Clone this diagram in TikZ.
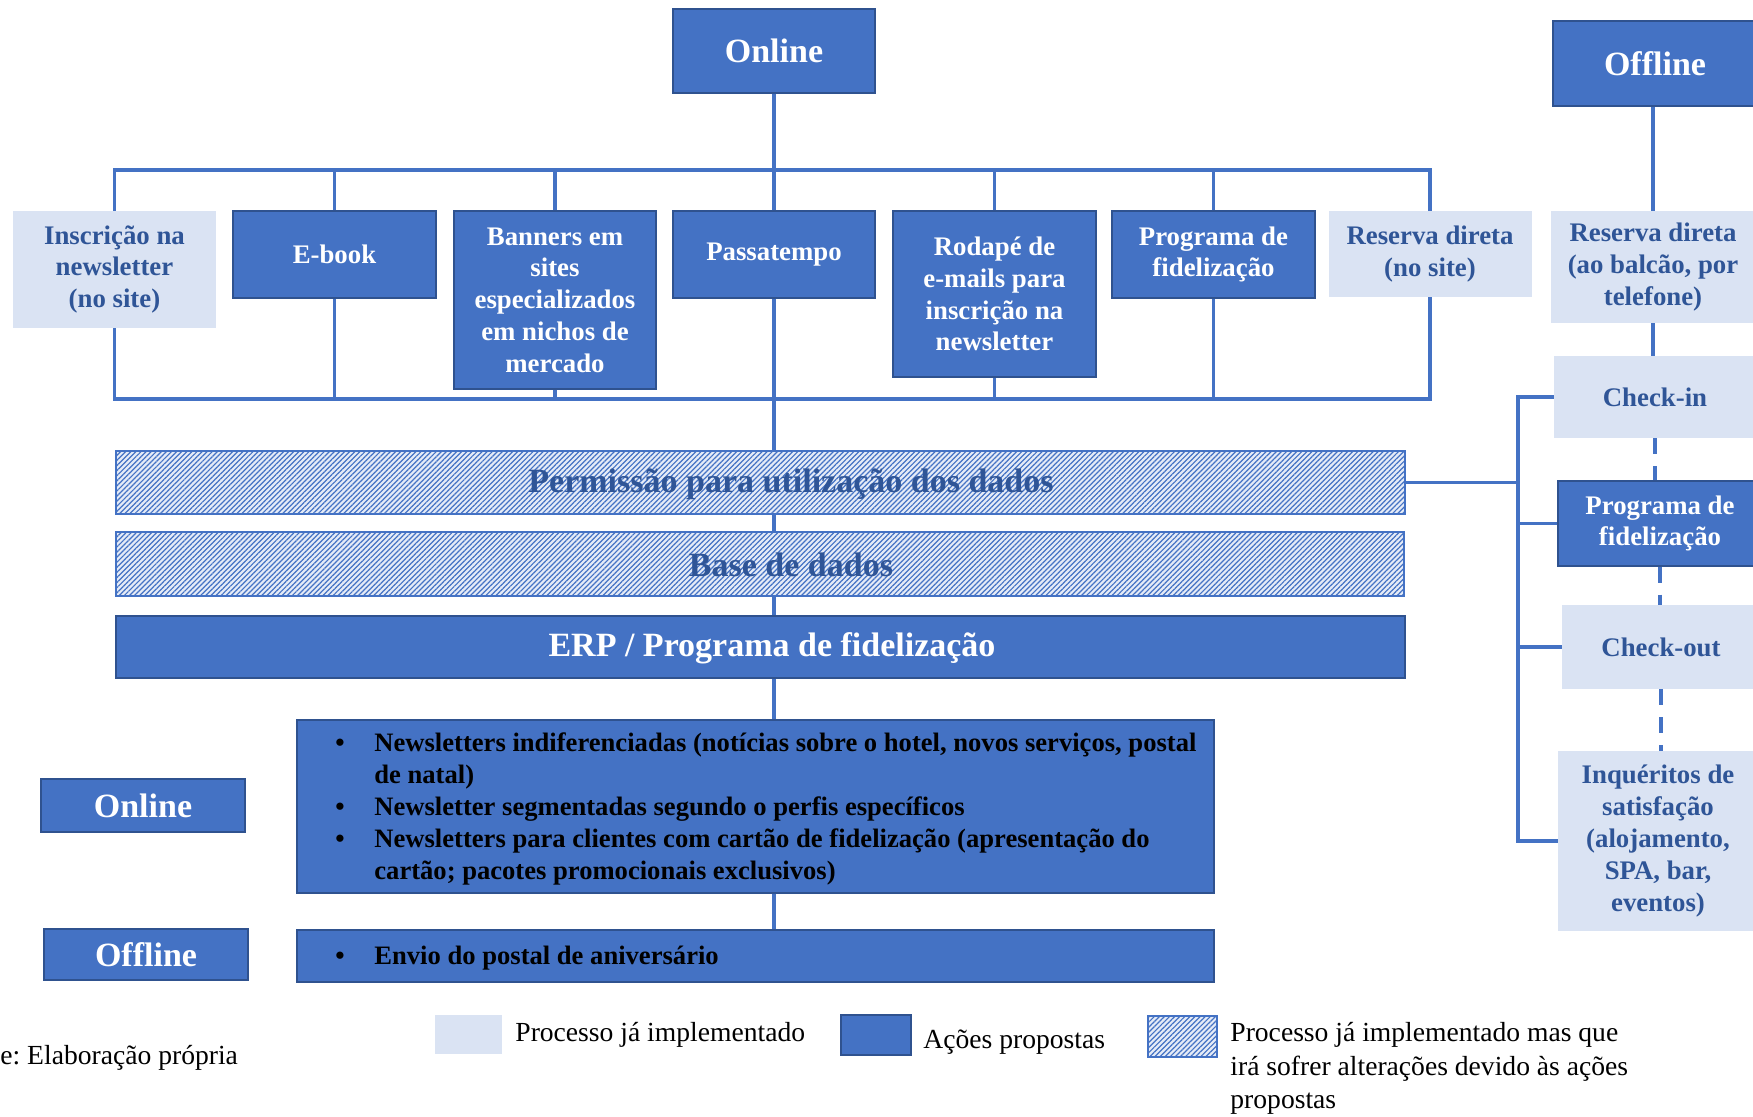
\documentclass[tikz,border=0pt]{standalone}
\usepackage{fontspec}
\setmainfont{Liberation Serif}
\usetikzlibrary{positioning, patterns.meta}
\frenchspacing

\definecolor{actblue}{HTML}{4472C4}
\definecolor{actedge}{HTML}{2F528F}
\definecolor{implblue}{HTML}{DAE3F3}
\definecolor{txtblue}{HTML}{2F5597}

\newcommand{\blt}{\makebox[19.5pt][l]{\textbullet}}

\tikzset{
  sz/.style 2 args={minimum width=#1*0.5pt, minimum height=#2*0.5pt},
  box/.style={rectangle, inner sep=0pt, align=center, font=\bfseries\fontsize{13.4}{15.9}\selectfont},
  act/.style={box, fill=actblue, draw=actedge, line width=0.6pt, text=white},
  impl/.style={box, fill=implblue, text=txtblue},
  chg/.style={rectangle, inner sep=0pt, draw=actblue, line width=0.8pt, preaction={fill=implblue!70!white},
    pattern={Lines[angle=45, distance=1.8pt, line width=0.6pt]}, pattern color=actblue},
  head/.style={act, font=\bfseries\fontsize{17}{20}\selectfont},
  bandtxt/.style={inner sep=0pt, font=\bfseries\fontsize{17}{20}\selectfont, text=txtblue},
  bullets/.style={inner sep=0pt, align=left, font=\bfseries\fontsize{13.3}{16.1}\selectfont, text=black},
  legtxt/.style={inner sep=0pt, align=left, font=\fontsize{13.8}{16.75}\selectfont, text=black},
  link/.style={draw=actblue, line width=1.8pt},
}

\begin{document}
\begin{tikzpicture}[x=0.5pt, y=-0.5pt]
  \useasboundingbox (0,0) rectangle (1753,1117);

  % online branch
  \node[head, sz={202}{84}] (online) at (774,51) {Online};
  \node[head, sz={204}{85}] (offline) at (1655,63.5) {Offline};

  \node[impl, sz={203}{117}] (inscricao) at (114.5,269.5) {Inscrição na\\newsletter\\(no site)};
  \node[act, sz={203}{87}] (ebook) at (334.5,254.5) {E-book};
  \node[act, sz={202}{178}] (banners) at (555,300) {Banners em\\sites\\especializados\\em nichos de\\mercado};
  \node[act, sz={202}{87}] (passatempo) at (774,254.5) {Passatempo};
  \node[act, sz={203}{166}] (rodape) at (994.5,294) {Rodapé de\\e-mails para\\inscrição na\\newsletter};
  \node[act, sz={203}{87}] (fidel) at (1213.5,254.5) {Programa de\\fidelização};
  \node[impl, sz={203}{86}] (reservasite) at (1430,254) {Reserva direta\\(no site)};
  \node[impl, sz={204}{112}] (reservabalcao) at (1653,267) {Reserva direta\\(ao balcão, por\\telefone)};

  \coordinate (toprail) at (0,170);
  \coordinate (botrail) at (0,399);
  \draw[link] (online.south) -- (online.south |- toprail);
  \draw[link] (inscricao.north) -- (inscricao.north |- toprail) -- (reservasite.north |- toprail) -- (reservasite.north);
  \draw[link] (inscricao.south) -- (inscricao.south |- botrail) -- (reservasite.south |- botrail) -- (reservasite.south);
  \foreach \n in {ebook,banners,passatempo,rodape,fidel} {
    \draw[link] (\n.north) -- (\n.north |- toprail);
    \draw[link] (\n.south) -- (\n.south |- botrail);
  }

  % data layers
  \node[chg, sz={1289}{63}] (permissao) at (760.5,482.5) {};
  \node[bandtxt] (permissaotxt) at (791,484) {Permissão para utilização dos dados};
  \node[chg, sz={1288}{64}] (base) at (760,564) {};
  \node[bandtxt] (basetxt) at (791,565) {Base de dados};
  \node[act, sz={1289}{62}] (erp) at (760.5,647) {};
  \node[bandtxt, text=white] (erptxt) at (772,648.5) {ERP / Programa de fidelização};

  \node[act, sz={917}{173}] (news) at (755.5,806.5) {};
  \node[bullets, anchor=west] (newstxt) at (335,809) {\blt Newsletters indiferenciadas (notícias sobre o hotel, novos serviços, postal\\
    \hspace*{19.5pt}de natal)\\
    \blt Newsletter segmentadas segundo o perfis específicos\\
    \blt Newsletters para clientes com cartão de fidelização (apresentação do\\
    \hspace*{19.5pt}cartão; pacotes promocionais exclusivos)};
  \node[act, sz={917}{52}] (envio) at (755.5,956) {};
  \node[bullets, anchor=west] (enviotxt) at (335,958) {\blt Envio do postal de aniversário};

  \node[head, sz={204}{53}] (onlinesm) at (143,805.5) {Online};
  \node[head, sz={204}{51}] (offlinesm) at (146,954.5) {Offline};

  \draw[link] (passatempo.south) -- (passatempo.south |- permissao.north);
  \draw[link] (passatempo.south |- permissao.south) -- (passatempo.south |- base.north);
  \draw[link] (passatempo.south |- base.south) -- (passatempo.south |- erp.north);
  \draw[link] (passatempo.south |- erp.south) -- (passatempo.south |- news.north);
  \draw[link] (passatempo.south |- news.south) -- (passatempo.south |- envio.north);

  % offline branch
  \node[impl, sz={202}{82}] (checkin) at (1655,397) {Check-in};
  \node[act, sz={204}{85}] (fidelr) at (1660,523.5) {Programa de\\fidelização};
  \node[impl, sz={198}{84}] (checkout) at (1661,647) {Check-out};
  \node[impl, sz={200}{180}] (inquerito) at (1658,841) {Inquéritos de\\satisfação\\(alojamento,\\SPA, bar,\\eventos)};

  \draw[link] (reservabalcao.north |- offline.south) -- (reservabalcao.north);
  \draw[link] (reservabalcao.south) -- (reservabalcao.south |- checkin.north);
  \draw[link, dash pattern=on 8pt off 6pt] (checkin.south) -- (checkin.south |- fidelr.north);
  \draw[link, dash pattern=on 8pt off 6pt] (fidelr.south) -- (fidelr.south |- checkout.north);
  \draw[link, dash pattern=on 8pt off 6pt] (checkout.south) -- (checkout.south |- inquerito.north);

  \coordinate (rtrunk) at (1518,0);
  \draw[link] (permissao.east) -- (permissao.east -| rtrunk);
  \draw[link] (checkin.west) -- (checkin.west -| rtrunk) -- (inquerito.west -| rtrunk) -- (inquerito.west);
  \draw[link] (fidelr.west) -- (fidelr.west -| rtrunk);
  \draw[link] (checkout.west) -- (checkout.west -| rtrunk);

  % legend
  \node[legtxt, anchor=west] (fonte) at (0,1058) {e: Elaboração própria};
  \node[impl, sz={67}{39}] (legimpl) at (468.5,1034.5) {};
  \node[legtxt, anchor=west] (legimpltxt) at (515,1035) {Processo já implementado};
  \node[act, sz={70}{40}] (legact) at (876,1035) {};
  \node[legtxt, anchor=west] (legacttxt) at (923,1042) {Ações propostas};
  \node[chg, sz={69}{41}] (legchg) at (1182.5,1036.5) {};
  \node[legtxt, anchor=west] (legchgtxt) at (1230,1068.5) {Processo já implementado mas que\\irá sofrer alterações devido às ações\\propostas};
\end{tikzpicture}
\end{document}
